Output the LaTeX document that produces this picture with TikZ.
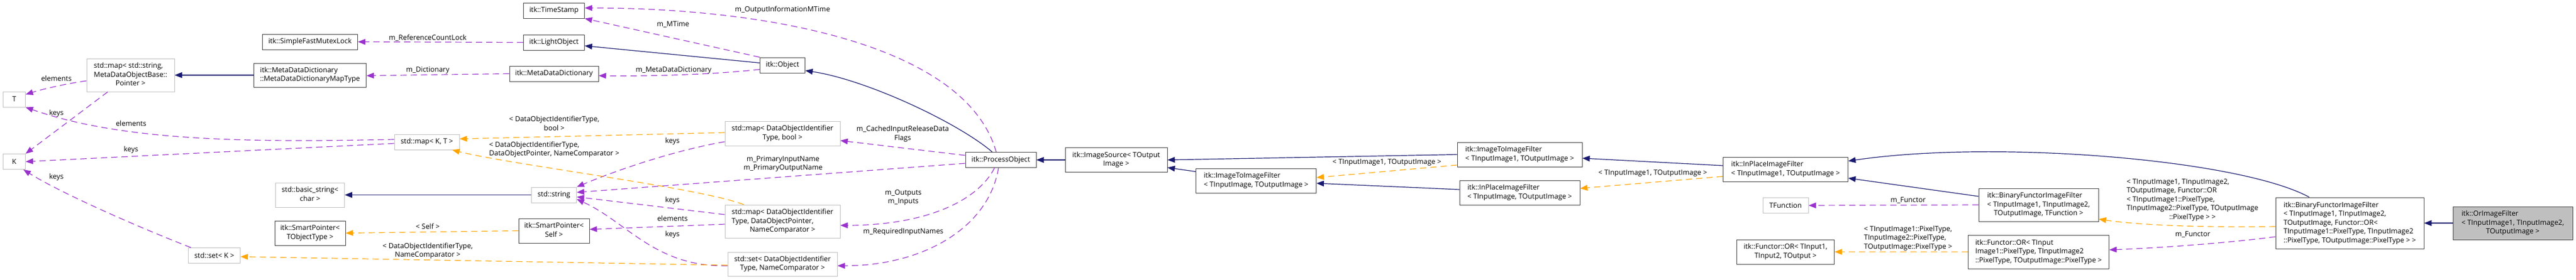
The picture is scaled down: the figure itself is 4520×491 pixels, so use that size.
\documentclass[tikz,border=0pt]{standalone}
\usepackage{fontspec}
\setmainfont{Open Sans}
\usetikzlibrary{positioning, arrows.meta}
\definecolor{navyblue}{HTML}{191970}
\definecolor{orchid}{HTML}{9A32CD}
\definecolor{tplorange}{HTML}{FFA500}
\definecolor{boxgray}{HTML}{BFBFBF}
\newcommand{\doxfont}{\fontsize{12.4}{15.5}\selectfont}
\newcommand{\doxl}[2]{\begin{tabular}{@{}l@{}}#1\\\multicolumn{1}{@{}c@{}}{#2}\end{tabular}}
\begin{document}
\begin{tikzpicture}[x=1pt, y=-1pt, on grid,
    cls/.style={draw=black!75, fill=white, line width=1pt, inner sep=0pt, font=\doxfont},
    ext/.style={cls, draw=boxgray},
    lbl/.style={font=\doxfont, inner sep=0pt},
    inh/.style={draw=navyblue, line width=1.2pt, -{Triangle[length=13pt,width=10pt]}},
    use/.style={draw=orchid, line width=1.2pt, dash pattern=on 11pt off 7pt, -{Triangle[length=13pt,width=10pt]}},
    tpl/.style={use, draw=tplorange}]
    \useasboundingbox (0,0) rectangle (4520,491);

    % classes
    \node[ext, minimum width=39pt, minimum height=27pt] (T) at (25,174.5) {T};
    \node[ext, minimum width=39pt, minimum height=27pt] (K) [below=109.5pt of T] {K};
    \node[ext, minimum width=154pt, minimum height=58pt] (mapstr) at (229,132) {\doxl{std::map< std::string,\\MetaDataObjectBase::}{Pointer >}};
    \node[ext, minimum width=91pt, minimum height=27pt] (setK) at (376,449) {std::set< K >};
    \node[cls, minimum width=167pt, minimum height=27pt] (mutex) at (544,73.5) {itk::SimpleFastMutexLock};
    \node[cls, minimum width=197pt, minimum height=42pt] (mddmap) [below=58.5pt of mutex] {\doxl{itk::MetaDataDictionary}{::MetaDataDictionaryMapType}};
    \node[ext, minimum width=121pt, minimum height=43pt] (bstr) [below=210.5pt of mddmap] {\doxl{std::basic\_string<}{char >}};
    \node[cls, minimum width=124pt, minimum height=43pt] (sptobj) [below=67pt of bstr] {\doxl{itk::SmartPointer<}{TObjectType >}};
    \node[ext, minimum width=114pt, minimum height=27pt] (mapKT) at (749,249.5) {std::map< K, T >};
    \node[cls, minimum width=107pt, minimum height=27pt] (tstamp) at (972,18.5) {itk::TimeStamp};
    \node[cls, minimum width=107pt, minimum height=27pt] (lobj) [below=56pt of tstamp] {itk::LightObject};
    \node[cls, minimum width=156pt, minimum height=27pt] (mdd) [below=55pt of lobj] {itk::MetaDataDictionary};
    \node[ext, minimum width=79pt, minimum height=27pt] (stdstr) [below=213pt of mdd] {std::string};
    \node[cls, minimum width=124pt, minimum height=43pt] (spself) [below=63pt of stdstr] {\doxl{itk::SmartPointer<}{Self >}};
    \node[cls, minimum width=79pt, minimum height=27pt] (obj) at (1373,114.5) {itk::Object};
    \node[ext, minimum width=202pt, minimum height=43pt] (mapbool) [below=120pt of obj] {\doxl{std::map< DataObjectIdentifier}{Type, bool >}};
    \node[ext, minimum width=202pt, minimum height=58pt] (mapdop) [below=154.5pt of mapbool] {\doxl{std::map< DataObjectIdentifier\\Type, DataObjectPointer,}{NameComparator >}};
    \node[ext, minimum width=192pt, minimum height=42pt] (setdo) [below=75pt of mapdop] {\doxl{std::set< DataObjectIdentifier}{Type, NameComparator >}};
    \node[cls, minimum width=124pt, minimum height=27pt] (pobj) at (1756,281) {itk::ProcessObject};
    \node[cls, minimum width=179pt, minimum height=43pt] (isrc) [right=202.5pt of pobj] {\doxl{itk::ImageSource< TOutput}{Image >}};
    \node[cls, minimum width=211pt, minimum height=43pt] (i2i) at (2204,317.5) {\doxl{itk::ImageToImageFilter}{< TInputImage, TOutputImage >}};
    \node[cls, minimum width=219pt, minimum height=43pt] (i2ione) at (2666.5,271.5) {\doxl{itk::ImageToImageFilter}{< TInputImage1, TOutputImage >}};
    \node[cls, minimum width=211pt, minimum height=43pt] (ipf) [below=67pt of i2ione] {\doxl{itk::InPlaceImageFilter}{< TInputImage, TOutputImage >}};
    \node[cls, minimum width=219pt, minimum height=43pt] (ipfone) at (3133,297.5) {\doxl{itk::InPlaceImageFilter}{< TInputImage1, TOutputImage >}};
    \node[ext, minimum width=80pt, minimum height=27pt] (tfunc) [below=63.5pt of ipfone] {TFunction};
    \node[cls, minimum width=171pt, minimum height=43pt] (orgen) [below=81.5pt of tfunc] {\doxl{itk::Functor::OR< TInput1,}{TInput2, TOutput >}};
    \node[cls, minimum width=210pt, minimum height=58pt] (bfif) at (3577,360) {\doxl{itk::BinaryFunctorImageFilter\\< TInputImage1, TInputImage2,}{TOutputImage, TFunction >}};
    \node[cls, minimum width=247pt, minimum height=59pt] (orinst) [below=82.5pt of bfif] {\doxl{itk::Functor::OR< TInput\\Image1::PixelType, TInputImage2}{::PixelType, TOutputImage::PixelType >}};
    \node[cls, minimum width=260pt, minimum height=90pt] (bfor) at (4123,392) {\doxl{itk::BinaryFunctorImageFilter\\< TInputImage1, TInputImage2,\\ TOutputImage, Functor::OR<\\ TInputImage1::PixelType, TInputImage2}{::PixelType, TOutputImage::PixelType > >}};
    \node[cls, fill=boxgray, minimum width=210pt, minimum height=58pt] (orf) [right=286pt of bfor] {\doxl{itk::OrImageFilter\\< TInputImage1, TInputImage2,}{TOutputImage >}};

    % inheritance
    \draw[inh] (mddmap.west) -- (mapstr.east);
    \draw[inh] ([yshift=4pt]obj.west) -- ([yshift=-6pt]lobj.east);
    \draw[inh] ([xshift=-15pt]pobj.north) .. controls (1680,215) and (1520,140) .. ([yshift=-9.5pt]obj.east);
    \draw[inh] (isrc.west) -- (pobj.east);
    \draw[inh] ([yshift=16pt]i2i.west) -- ([yshift=-13.5pt]isrc.east);
    \draw[inh] (i2ione.west) -- (isrc.east);
    \draw[inh] ([yshift=5.5pt]ipf.west) -- ([yshift=-4.5pt]i2i.east);
    \draw[inh] ([yshift=6.5pt]ipfone.west) -- ([yshift=-6.5pt]i2ione.east);
    \draw[inh] ([yshift=15pt]bfif.west) -- ([yshift=-15.5pt]ipfone.east);
    \draw[inh] ([xshift=-71pt]bfor.north) .. controls (3930,280) and (3500,245) .. ([yshift=14.5pt]ipfone.east);
    \draw[inh] (orf.west) -- (bfor.east);
    \draw[inh] (stdstr.west) -- (bstr.east);

    % members
    \draw[use] (lobj.west) -- (mutex.east);
    \draw[use] (mdd.west) -- ([yshift=-1pt]mddmap.east);
    \draw[use] (obj.north west) -- (tstamp.south east);
    \draw[use] ([xshift=-8pt]pobj.north) .. controls (1695,80) and (1350,14) .. ([yshift=4.5pt]tstamp.east);
    \draw[use] ([yshift=-7.5pt]obj.west) .. controls (1250,131) and (1150,134) .. ([yshift=-3.5pt]mdd.east);
    \draw[use] ([yshift=8pt]pobj.west) -- ([yshift=-12.5pt]mapbool.east);
    \draw[use] ([yshift=-6pt]pobj.west) -- ([yshift=4.5pt]stdstr.east);
    \draw[use] ([xshift=-11pt]pobj.south) .. controls (1715,355) and (1620,396) .. ([yshift=-7pt]mapdop.east);
    \draw[use] ([xshift=-4pt]pobj.south) .. controls (1735,400) and (1620,467) .. ([yshift=-3pt]setdo.east);
    \draw[use] ([yshift=-10pt]mapstr.west) .. controls (110,148) and (70,158) .. ([yshift=8.5pt]T.east);
    \draw[use] ([xshift=-40pt]mapstr.south) -- (K.north east);
    \draw[use] ([yshift=4.5pt]mapKT.west) .. controls (450,250) and (220,250) .. (T.south east);
    \draw[use] ([yshift=-2.5pt]mapKT.west) -- (K.east);
    \draw[use] ([xshift=5pt]setK.north west) .. controls (220,390) and (100,335) .. ([xshift=-4pt]K.south east);
    \draw[use] ([yshift=-14.5pt]mapbool.west) .. controls (1180,265) and (1080,300) .. (stdstr.north east);
    \draw[use] ([yshift=12pt]mapdop.west) -- ([yshift=-3.5pt]stdstr.east);
    \draw[use] ([yshift=-5pt]mapdop.west) -- ([yshift=2.5pt]spself.east);
    \draw[use] ([yshift=-3pt]setdo.west) .. controls (1150,470) and (1100,390) .. ([yshift=-7.5pt]stdstr.east);
    \draw[use] (bfif.west) -- (tfunc.east);
    \draw[use] ([yshift=-24pt]bfor.west) .. controls (3900,428) and (3780,436) .. ([yshift=3.5pt]orinst.east);

    % template arguments
    \draw[tpl] ([yshift=1.5pt]mapbool.west) -- ([yshift=5.5pt]mapKT.east);
    \draw[tpl] ([xshift=-68pt]mapdop.north) .. controls (1230,330) and (900,290) .. ([xshift=-13pt]mapKT.south east);
    \draw[tpl] ([yshift=-2pt]setdo.west) -- ([yshift=-2pt]setK.east);
    \draw[tpl] (spself.west) -- (sptobj.east);
    \draw[tpl] ([yshift=-12.5pt]ipfone.west) -- ([yshift=7.5pt]ipf.east);
    \draw[tpl] ([yshift=-18.5pt]i2ione.west) -- ([yshift=5.5pt]i2i.east);
    \draw[tpl] ([yshift=-6pt]bfor.west) .. controls (3850,400) and (3750,395) .. ([yshift=-25pt]bfif.east);
    \draw[tpl] (orinst.west) -- (orgen.east);

    % edge labels
    \node[lbl] (lrefcnt) at (750.5,67) {m\_ReferenceCountLock};
    \node[lbl] (ldict) at (750.5,123) {m\_Dictionary};
    \node[lbl] (lmtime) at (1181,43) {m\_MTime};
    \node[lbl] (loutinfo) at (1373,17) {m\_OutputInformationMTime};
    \node[lbl] (lmdd) at (1182,123) {m\_MetaDataDictionary};
    \node[lbl, align=center] (lcached) at (1584,235.5) {m\_CachedInputReleaseData\\Flags};
    \node[lbl, align=center] (lprimary) at (1374,288) {m\_PrimaryInputName\\m\_PrimaryOutputName};
    \node[lbl, align=center] (lio) at (1585,347) {m\_Outputs\\m\_Inputs};
    \node[lbl] (lreq) at (1585,407) {m\_RequiredInputNames};
    \node[lbl] (lelemT) at (99,138) {elements};
    \node[lbl] (lkeysK) at (99,199) {keys};
    \node[lbl] (lelemKT) at (230,217) {elements};
    \node[lbl] (lkeysKT) at (230,263) {keys};
    \node[lbl] (lkeysset) at (99,311) {keys};
    \node[lbl] (lkeysbool) at (1180,248) {keys};
    \node[lbl] (lkeysdop) at (1180,352) {keys};
    \node[lbl] (lelemdop) at (1180,384) {elements};
    \node[lbl] (lkeysdo) at (1180,412) {keys};
    \node[lbl] (lfunctor) at (3348,352) {m\_Functor};
    \node[lbl] (lfunctoror) at (3847.5,412) {m\_Functor};
    \node[lbl] (tbool) at (972.5,218.5) {\doxl{< DataObjectIdentifierType,}{bool >}};
    \node[lbl] (tdop) at (972.5,263) {\doxl{< DataObjectIdentifierType,}{DataObjectPointer, NameComparator >}};
    \node[lbl] (tset) at (750.5,441) {\doxl{< DataObjectIdentifierType,}{NameComparator >}};
    \node[lbl] (tself) at (750.5,398) {< Self >};
    \node[lbl] (tipf) at (2900,304) {< TInputImage1, TOutputImage >};
    \node[lbl] (ti2i) at (2433.5,285) {< TInputImage1, TOutputImage >};
    \node[lbl] (tbf) at (3847,351) {\doxl{< TInputImage1, TInputImage2,\\TOutputImage, Functor::OR\\< TInputImage1::PixelType,\\TInputImage2::PixelType, TOutputImage}{::PixelType > >}};
    \node[lbl] (tor) at (3348,418.5) {\doxl{< TInputImage1::PixelType,\\TInputImage2::PixelType,}{TOutputImage::PixelType >}};
\end{tikzpicture}
\end{document}
